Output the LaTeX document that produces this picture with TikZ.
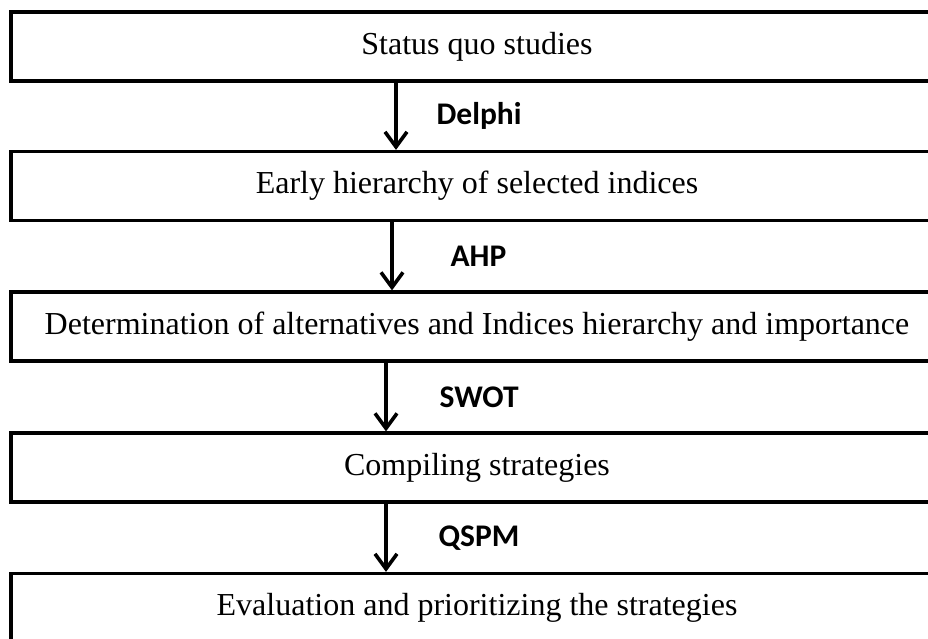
\documentclass[tikz,border=0pt]{standalone}
\usepackage{fontspec}
\setmainfont{Liberation Serif}
\newfontfamily\lblfont{Carlito}
\usetikzlibrary{arrows.meta}
\begin{document}
\begin{tikzpicture}[x=1pt,y=1pt,
        stage/.style={draw,line width=3.2pt,minimum width=932pt,minimum height=69pt,
            inner sep=0pt,font=\fontsize{32}{36}\selectfont},
        flow/.style={line width=3.2pt,-{Straight Barb[length=15pt,width=22pt,line width=3.6pt]}},
        tool/.style={font=\lblfont\bfseries\fontsize{31.5}{36}\selectfont,anchor=west,inner sep=0pt}]
        \useasboundingbox (0,0) rectangle (928,-639);
        %% stages
        \node[stage] (s1) at (477,-46.5) {Status quo studies};
        \node[stage] (s2) at (477,-186) {Early hierarchy of selected indices};
        \node[stage] (s3) at (477,-326.5) {Determination of alternatives and Indices hierarchy and importance};
        \node[stage] (s4) at (477,-467.5) {Compiling strategies};
        \node[stage] (s5) at (477,-608) {Evaluation and prioritizing the strategies};
        %% methods
        \draw[flow] ([xshift=-81pt]s1.south) -- ([xshift=-81pt]s2.north)
            node[tool,midway,xshift=39pt] (m1) {Delphi};
        \draw[flow] ([xshift=-85pt]s2.south) -- ([xshift=-85pt]s3.north)
            node[tool,midway,xshift=57pt] (m2) {AHP};
        \draw[flow] ([xshift=-91pt]s3.south) -- ([xshift=-91pt]s4.north)
            node[tool,midway,xshift=52pt] (m3) {SWOT};
        \draw[flow] ([xshift=-91pt]s4.south) -- ([xshift=-91pt]s5.north)
            node[tool,midway,xshift=51pt] (m4) {QSPM};
\end{tikzpicture}
\end{document}
